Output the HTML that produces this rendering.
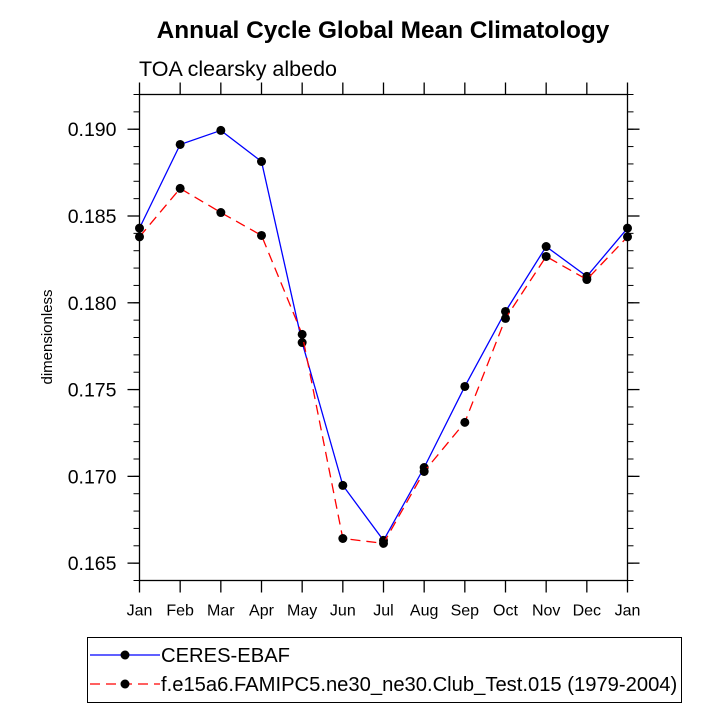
<!DOCTYPE html>
<html><head><meta charset="utf-8"><style>
html,body{margin:0;padding:0;background:#fff;}
svg text{font-family:"Liberation Sans",Arial,sans-serif;}
</style></head><body>
<svg id="chart" width="722" height="722" viewBox="0 0 722 722">
<text x="383" y="38" text-anchor="middle" font-size="24.4" font-weight="bold">Annual Cycle Global Mean Climatology</text>
<text x="139" y="76" font-size="21.5">TOA clearsky albedo</text>
<text transform="translate(52,337) rotate(-90)" text-anchor="middle" font-size="15">dimensionless</text>
<g id="axes"></g>
<g id="series"></g>
<rect x="87.5" y="637.5" width="594" height="65" fill="none" stroke="#000" stroke-width="1"/>
<g>
<line x1="90" y1="655" x2="160" y2="655" stroke="#0000ff" stroke-width="1.3"/>
<circle cx="125" cy="655" r="4.5" fill="#000"/>
<text x="161" y="662" font-size="20.2">CERES-EBAF</text>
</g>
<g>
<line x1="90" y1="684" x2="160" y2="684" stroke="#ff0000" stroke-width="1.3" stroke-dasharray="10,6"/>
<circle cx="125" cy="684" r="4.5" fill="#000"/>
<text x="161" y="691" font-size="20.2">f.e15a6.FAMIPC5.ne30_ne30.Club_Test.015 (1979-2004)</text>
</g>
</svg>
<script>
const months = ["Jan","Feb","Mar","Apr","May","Jun","Jul","Aug","Sep","Oct","Nov","Dec","Jan"];
const ceres = [0.1843,0.18912,0.18993,0.18814,0.17771,0.16948,0.16631,0.17051,0.17518,0.1795,0.18324,0.18152,0.1843];
const model = [0.1838,0.18659,0.1852,0.18388,0.17818,0.16642,0.16614,0.17028,0.17311,0.1791,0.18267,0.18134,0.1838];
const yTicks = [0.165,0.170,0.175,0.180,0.185,0.190];
const yTickLabels = ["0.165","0.170","0.175","0.180","0.185","0.190"];
const yMin = 0.164, yMax = 0.192;
const L=139.5,R=627.5,T=94.5,B=580.5;
const NS="http://www.w3.org/2000/svg";
function X(i){return L+(R-L)*i/(months.length-1);}
function Y(v){return B-(B-T)*(v-yMin)/(yMax-yMin);}
function mk(tag,attrs,parent){const e=document.createElementNS(NS,tag);for(const k in attrs)e.setAttribute(k,attrs[k]);parent.appendChild(e);return e;}
const axes=document.getElementById('axes');
const frame=mk('rect',{x:L,y:T,width:R-L,height:B-T,fill:'none',stroke:'#000','stroke-width':1.3},axes);


for(let k=0;k<=Math.round((yMax-yMin)*1000);k++){
  const v=yMin+k*0.001;const y=Y(v);
  mk('line',{x1:L-6,y1:y,x2:L,y2:y,stroke:'#000','stroke-width':1},axes);
  mk('line',{x1:R,y1:y,x2:R+6,y2:y,stroke:'#000','stroke-width':1},axes);
}
yTicks.forEach((v,i)=>{
  const y=Y(v);
  mk('line',{x1:L-12,y1:y,x2:L,y2:y,stroke:'#000','stroke-width':1.3},axes);
  mk('line',{x1:R,y1:y,x2:R+12,y2:y,stroke:'#000','stroke-width':1.3},axes);
  const t=mk('text',{x:L-23,y:y+7,'text-anchor':'end','font-size':19.5},axes);
  t.textContent=yTickLabels[i];
  
  
});
months.forEach((m,i)=>{
  const x=X(i);
  mk('line',{x1:x,y1:B,x2:x,y2:B+12,stroke:'#000','stroke-width':1.3},axes);
  mk('line',{x1:x,y1:T-12,x2:x,y2:T,stroke:'#000','stroke-width':1.3},axes);
  const t=mk('text',{x:x,y:B+35,'text-anchor':'middle','font-size':16},axes);
  t.textContent=m;
  
  
});
const sg=document.getElementById('series');
function draw(vals,color,dash,name){
  const g=mk('g',{},sg);
  
  
  const pts=vals.map((v,i)=>X(i)+','+Y(v)).join(' ');
  const pl=mk('polyline',{points:pts,fill:'none',stroke:color,'stroke-width':1.3},g);
  if(dash)pl.setAttribute('stroke-dasharray',dash);
  vals.forEach((v,i)=>{
    const c=mk('circle',{cx:X(i),cy:Y(v),r:4.5,fill:'#000'},g);
    
    
  });
}
draw(ceres,'#0000ff',null,'ceres-series');
draw(model,'#ff0000','10,6','model-series');
</script>
</body></html>
